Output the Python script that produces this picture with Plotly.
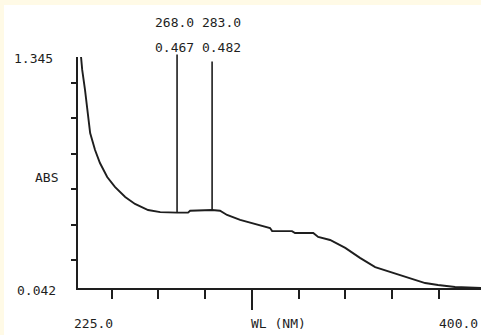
import plotly.graph_objects as go

# ---- data ----
wavelength_nm = [226.9, 227.4, 228.6, 229.5, 230.8, 232.9, 235.0, 238.1, 241.4, 245.8,
                 250.0, 255.6, 260.8, 268.0, 272.7, 273.6, 283.0, 286.4, 289.4, 295.0,
                 303.5, 307.8, 308.7, 317.2, 318.5, 326.3, 328.4, 333.5, 340.0, 346.3,
                 352.8, 359.2, 365.6, 374.2, 379.7, 387.0, 398.1]
absorbance = [1.345, 1.272, 1.159, 1.046, 0.916, 0.820, 0.747, 0.668, 0.612, 0.555,
              0.516, 0.482, 0.470, 0.467, 0.467, 0.478, 0.482, 0.478, 0.454, 0.426,
              0.397, 0.380, 0.363, 0.363, 0.352, 0.352, 0.330, 0.313, 0.268, 0.212,
              0.160, 0.132, 0.104, 0.070, 0.059, 0.048, 0.042]

peak_wl = [268.0, 283.0]
peak_abs = [0.467, 0.482]
peak_line_top = [1.367, 1.328]

y_min, y_max = 0.042, 1.345
x_start_label, x_end_label = 225.0, 400.0
x_range = [225.6, 398.1]
x_minor_ticks = [240, 260, 280, 320, 340, 360, 380]
x_major_ticks = [300]
y_ticks = [0.2, 0.4, 0.6, 0.8, 1.0, 1.2]
abs_label_y = 0.667

# ---- style ----
INK = "#1e1e1e"
CREAM = "#FFFAE6"
FONT = dict(family="DejaVu Sans Mono", size=13, color=INK)

fig = go.Figure()
fig.add_trace(go.Scatter(x=wavelength_nm, y=absorbance, mode="lines",
                         line=dict(color=INK, width=1.9), cliponaxis=False,
                         hoverinfo="skip", showlegend=False))

annotations = []
# peak marker lines
for wl, a, top in zip(peak_wl, peak_abs, peak_line_top):
    annotations.append(dict(x=wl, y=a, ax=wl, ay=top, xref="x", yref="y",
                            axref="x", ayref="y", text="", showarrow=True,
                            arrowhead=0, arrowwidth=1.6, arrowcolor=INK,
                            standoff=0, startstandoff=0))
mid_wl = sum(peak_wl) / len(peak_wl)
annotations.append(dict(x=mid_wl, y=1, xref="x", yref="paper", xanchor="center",
                        yanchor="middle", yshift=35, xshift=3, showarrow=False,
                        text=" ".join(f"{w:.1f}" for w in peak_wl), font=FONT))
annotations.append(dict(x=mid_wl, y=1, xref="x", yref="paper", xanchor="center",
                        yanchor="middle", yshift=10, xshift=3, showarrow=False,
                        text=" ".join(f"{v:.3f}" for v in peak_abs), font=FONT))
# y labels
annotations.append(dict(x=0, y=y_max, xref="paper", yref="y", xanchor="right",
                        yanchor="middle", xshift=-23, yshift=-1, showarrow=False,
                        text=f"{y_max:.3f}", font=FONT))
annotations.append(dict(x=0, y=y_min, xref="paper", yref="y", xanchor="right",
                        yanchor="middle", xshift=-20, yshift=-2, showarrow=False,
                        text=f"{y_min:.3f}", font=FONT))
annotations.append(dict(x=0, y=abs_label_y, xref="paper", yref="y", xanchor="center",
                        yanchor="middle", xshift=-32, showarrow=False,
                        text="ABS", font=FONT))
# x labels
annotations.append(dict(x=x_range[0], y=0, xref="x", yref="paper", xanchor="left",
                        yanchor="middle", xshift=-6, yshift=-35, showarrow=False,
                        text=f"{x_start_label:.1f}", font=FONT))
annotations.append(dict(x=x_major_ticks[0], y=0, xref="x", yref="paper", xanchor="left",
                        yanchor="middle", xshift=-3, yshift=-35, showarrow=False,
                        text="WL (NM)", font=FONT))
annotations.append(dict(x=x_minor_ticks[-1], y=0, xref="x", yref="paper", xanchor="left",
                        yanchor="middle", xshift=-2, yshift=-35, showarrow=False,
                        text=f"{x_end_label:.1f}", font=FONT))

W, H = 481, 335
L, R, T, B = 78, 0, 57, 47
pw, ph = W - L - R, H - T - B

def px_x(p):
    return (p - L) / pw

def px_y(p):
    return (H - B - p) / ph

shapes = [
    dict(type="rect", xref="paper", yref="paper", x0=px_x(0), x1=px_x(4),
         y0=px_y(H), y1=px_y(0), fillcolor=CREAM, line_width=0, layer="below"),
    dict(type="rect", xref="paper", yref="paper", x0=px_x(0), x1=px_x(W),
         y0=px_y(5), y1=px_y(0), fillcolor=CREAM, line_width=0, layer="below"),
]

fig.update_layout(
    width=W, height=H,
    margin=dict(l=L, r=R, t=T, b=B, pad=0),
    paper_bgcolor="white", plot_bgcolor="white",
    annotations=annotations, shapes=shapes, showlegend=False,
    xaxis=dict(range=x_range, showline=True, linecolor=INK, linewidth=2,
               showgrid=False, zeroline=False, showticklabels=False,
               ticks="outside", tickmode="array", tickvals=x_major_ticks,
               ticklen=20, tickwidth=1.6, tickcolor=INK,
               minor=dict(tickmode="array", tickvals=x_minor_ticks, ticks="outside",
                          ticklen=9, tickwidth=1.6, tickcolor=INK, showgrid=False)),
    yaxis=dict(range=[y_min, y_max], showline=True, linecolor=INK, linewidth=2,
               showgrid=False, zeroline=False, showticklabels=False,
               ticks="outside", tickmode="array", tickvals=y_ticks,
               ticklen=5, tickwidth=1.6, tickcolor=INK),
)

fig.write_html("out.html", config={"displayModeBar": False},
               post_script="document.body.style.margin='0';document.body.style.overflow='hidden';")
